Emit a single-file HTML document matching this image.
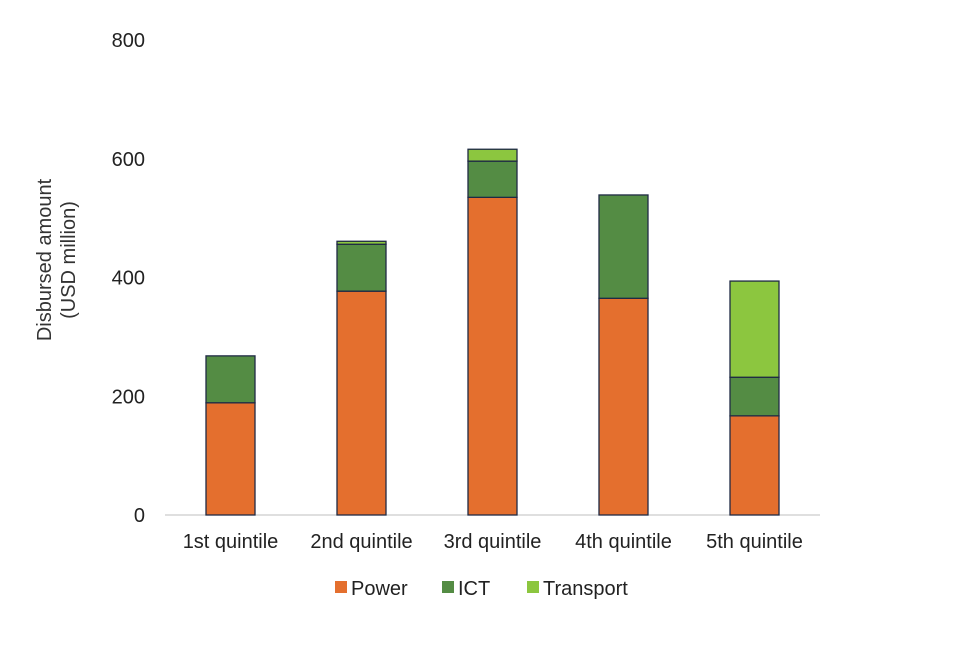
<!DOCTYPE html>
<html><head><meta charset="utf-8"><style>
body{margin:0;background:#fff;}
svg{font-family:"Liberation Sans",Arial,sans-serif;}
</style></head><body>
<svg id="chart" width="960" height="640"></svg>
<script>
const categories=["1st quintile","2nd quintile","3rd quintile","4th quintile","5th quintile"];
const power=[189,377,535,365,167];
const ict=[79,79,61,174,65];
const transport=[0,5,20,0,162];
const ticks=[0,200,400,600,800];
const seriesNames=["Power","ICT","Transport"];
const colors=["#E46F2E","#548C44","#8CC63F"];
const NS="http://www.w3.org/2000/svg";
const svg=document.getElementById('chart');
const x0=165,bandW=131,barW=49,yBase=515,yTop=40,yMax=800;
const y=v=>yBase-(v/yMax)*(yBase-yTop);
const xc=i=>x0+bandW*(i+0.5);
function mk(tag,attrs,parent){const e=document.createElementNS(NS,tag);for(const k in attrs)e.setAttribute(k,attrs[k]);(parent||svg).appendChild(e);return e;}
ticks.forEach(t=>{const e=mk('text',{x:145,y:y(t)+7,'text-anchor':'end','font-size':20,fill:'#222'});e.textContent=t;

});
const ax=mk('line',{x1:x0,x2:820,y1:yBase,y2:yBase,stroke:'#bfbfbf','stroke-width':1});


const yt=mk('text',{transform:'translate(53,260) rotate(-90)','text-anchor':'middle','font-size':20,fill:'#333'});


const t1=mk('tspan',{x:0,dy:-2},yt);t1.textContent='Disbursed amount';
const t2=mk('tspan',{x:0,dy:24},yt);t2.textContent='(USD million)';
const series=[power,ict,transport];
categories.forEach((c,i)=>{
  let acc=0;
  series.forEach((s,j)=>{
    const v=s[i]; if(v<=0) return;
    const r=mk('rect',{x:xc(i)-barW/2,y:y(acc+v),width:barW,height:y(acc)-y(acc+v),fill:colors[j],stroke:'#1f2a44','stroke-width':1.3});
    
    
    acc+=v;
  });
  const l=mk('text',{x:xc(i),y:548,'text-anchor':'middle','font-size':20,fill:'#222'});l.textContent=c;
  
  
});
const legX=[335,442,527];
seriesNames.forEach((n,j)=>{
  const g=mk('g',{});
  
  
  mk('rect',{x:legX[j],y:581,width:12,height:12,fill:colors[j]},g);
  const t=mk('text',{x:legX[j]+16,y:595,'font-size':20,fill:'#222'},g);t.textContent=n;
});
</script>
</body></html>
